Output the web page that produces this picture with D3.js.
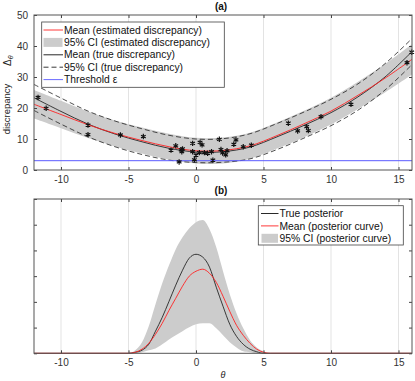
<!DOCTYPE html>
<html>
<head>
<meta charset="utf-8">
<script src="https://cdn.jsdelivr.net/npm/d3@7"></script>
<style>
  body { margin: 0; background: #fff; }
  svg { font-family: "Liberation Sans", Arial, sans-serif; }
  .tick text { font-size: 10px; fill: #333; }
  .tick line { stroke: #444; }
  .domain { display: none; }
</style>
</head>
<body>
<svg id="chart"></svg>
<script>
// ------------------------------------------------------------
// Panel (a): discrepancy vs theta, panel (b): posterior curves
// ------------------------------------------------------------

// Panel (a) data: curves sampled on a theta grid
const thetaA = [-12, -10, -8, -6, -4, -2, 0, 2, 4, 6, 8, 10, 12, 14, 16];
const estMean = [21.2, 17.9, 14.6, 11.8, 9.5, 7.5, 6.2, 6.3, 7.8, 11.1, 14.9, 19.0, 24.1, 29.6, 35.7];
const estLower = [16.6, 13.5, 10.3, 7.6, 5.3, 3.3, 2.1, 2.1, 3.6, 6.9, 10.6, 14.7, 19.7, 25.0, 30.8];
const estUpper = [25.8, 22.3, 18.9, 16.0, 13.7, 11.7, 10.4, 10.5, 12.0, 15.3, 19.1, 23.3, 28.5, 34.2, 40.6];
const trueMean = [23.3, 18.9, 14.8, 11.6, 9.1, 7.0, 5.8, 5.9, 7.4, 10.7, 14.4, 18.5, 23.6, 30.0, 38.2];
const trueLower = [19.2, 14.8, 10.7, 7.5, 5.0, 3.2, 2.4, 2.5, 3.6, 6.6, 10.3, 14.3, 19.3, 25.8, 34.0];
const trueUpper = [27.6, 23.2, 19.0, 15.8, 13.3, 11.2, 10.0, 10.1, 11.7, 15.0, 18.7, 22.8, 27.8, 34.3, 42.4];
const threshold = 3;

// Observed discrepancies (theta, value)
const obsTheta = [-11.7, -11.1, -8.0, -8.0, -5.6, -3.9, -1.85, -1.5, -1.1, -1.05, -1.0, -1.25,
  -0.25, -0.25, -0.12, 0.0, 0.25, 0.3, 0.45, 0.62, 0.86, 1.15, 1.25, 1.73, 1.85, 1.97, 2.2,
  2.3, 2.8, 2.96, 3.5, 4.1, 6.84, 7.53, 8.2, 8.32, 9.26, 11.48, 15.63, 15.98];
const obsValue = [23.4, 19.9, 14.5, 11.4, 11.3, 10.8, 6.4, 7.8, 6.5, 5.9, 6.8, 2.6,
  8.6, 5.9, 3.3, 4.8, 5.6, 8.9, 8.1, 5.6, 5.4, 5.9, 3.2, 9.9, 6.6, 5.5, 4.9,
  6.2, 8.3, 9.7, 7.5, 8.0, 15.1, 12.6, 14.0, 12.7, 17.2, 21.2, 34.6, 38.0];

// Panel (b) data: posterior densities
const thetaB = [-12, -5, -4.5, -4, -3.5, -3, -2.5, -2, -1.5, -1, -0.5, 0, 0.5, 1, 1.5, 2, 2.5, 3, 3.5, 4, 4.5, 5, 5.5, 16];
const truePost = [0, 0, 0.004, 0.012, 0.035, 0.086, 0.140, 0.202, 0.265, 0.323, 0.370, 0.385, 0.374, 0.335, 0.257, 0.183, 0.113, 0.066, 0.035, 0.016, 0.006, 0, 0, 0];
const meanPost = [0, 0, 0.004, 0.016, 0.039, 0.074, 0.117, 0.167, 0.214, 0.261, 0.300, 0.319, 0.327, 0.311, 0.276, 0.222, 0.163, 0.109, 0.070, 0.039, 0.016, 0.004, 0, 0];
const lowerPost = [0, 0, 0, 0.004, 0.012, 0.019, 0.035, 0.054, 0.070, 0.086, 0.101, 0.113, 0.117, 0.117, 0.097, 0.070, 0.043, 0.023, 0.008, 0.004, 0, 0, 0, 0];
const upperPost = [0, 0, 0.012, 0.043, 0.105, 0.191, 0.272, 0.342, 0.405, 0.451, 0.486, 0.510, 0.518, 0.482, 0.412, 0.319, 0.230, 0.156, 0.097, 0.051, 0.023, 0.008, 0, 0];

const xTicks = [-10, -5, 0, 5, 10, 15];

const width = 415;
const height = 381;
const left = 34, right = 412;

const svg = d3.select("#chart")
  .attr("width", width)
  .attr("height", height);

const x = d3.scaleLinear().domain([-12, 16]).range([left, right]);
const yA = d3.scaleLinear().domain([0, 50]).range([170, 15]);
const yB = d3.scaleLinear().domain([0, 0.6]).range([353.3, 199]);

// Vertical grid lines behind the data
function drawGrid(y) {
  const [bottom, top] = y.range();
  svg.append("g")
    .selectAll("line")
    .data(xTicks)
    .enter()
    .append("line")
    .attr("x1", d => x(d)).attr("x2", d => x(d))
    .attr("y1", top).attr("y2", bottom)
    .attr("stroke", "#e3e3e3");
}

// Box and inward ticks on all four sides
function drawAxes(y, yTicks, showYLabels) {
  const [bottom, top] = y.range();
  const g = svg.append("g");

  g.append("g")
    .attr("transform", `translate(0,${bottom})`)
    .call(d3.axisBottom(x).tickValues(xTicks).tickSize(-3).tickPadding(6).tickFormat(d => d));
  g.append("g")
    .attr("transform", `translate(0,${top})`)
    .call(d3.axisTop(x).tickValues(xTicks).tickSize(-3).tickFormat(""));
  g.append("g")
    .attr("transform", `translate(${left},0)`)
    .call(d3.axisLeft(y).tickValues(yTicks).tickSize(-3).tickPadding(6)
      .tickFormat(showYLabels ? (d => d) : ""));
  g.append("g")
    .attr("transform", `translate(${right},0)`)
    .call(d3.axisRight(y).tickValues(yTicks).tickSize(-3).tickFormat(""));

  g.append("rect")
    .attr("x", left).attr("y", top)
    .attr("width", right - left).attr("height", bottom - top)
    .attr("fill", "none")
    .attr("stroke", "#555")
    .attr("stroke-width", 1);
}

// ---------------- Panel (a) ----------------
drawGrid(yA);

const idxA = thetaA.map((d, i) => i);
svg.append("path")
  .attr("d", d3.area()
    .x(i => x(thetaA[i]))
    .y0(i => yA(estLower[i]))
    .y1(i => yA(estUpper[i]))
    .curve(d3.curveCatmullRom)(idxA))
  .attr("fill", "#cccccc");

function lineA(arr) {
  return d3.line()
    .x(i => x(thetaA[i]))
    .y(i => yA(arr[i]))
    .curve(d3.curveCatmullRom)(idxA);
}

svg.append("path").attr("d", lineA(trueLower))
  .attr("fill", "none").attr("stroke", "#222").attr("stroke-width", 0.8)
  .attr("stroke-dasharray", "5,3");
svg.append("path").attr("d", lineA(trueUpper))
  .attr("fill", "none").attr("stroke", "#222").attr("stroke-width", 0.8)
  .attr("stroke-dasharray", "5,3");
svg.append("path").attr("d", lineA(trueMean))
  .attr("fill", "none").attr("stroke", "#111").attr("stroke-width", 0.8);
svg.append("path").attr("d", lineA(estMean))
  .attr("fill", "none").attr("stroke", "#f22").attr("stroke-width", 0.9);

svg.append("line")
  .attr("x1", left).attr("x2", right)
  .attr("y1", yA(threshold)).attr("y2", yA(threshold))
  .attr("stroke", "#5a5aff").attr("stroke-width", 1);

// Observed points as asterisks
const star = d3.symbol(d3.symbolAsterisk || d3.symbolCross, 20);
svg.append("g")
  .selectAll("path")
  .data(obsTheta)
  .enter()
  .append("path")
  .attr("transform", (d, i) => `translate(${x(d)},${yA(obsValue[i])})`)
  .attr("d", star)
  .attr("fill", "none")
  .attr("stroke", "#111")
  .attr("stroke-width", 1.2);

drawAxes(yA, [0, 10, 20, 30, 40, 50], true);

// Legend (a)
const legA = svg.append("g");
legA.append("rect")
  .attr("x", 41.7).attr("y", 22).attr("width", 182.6).attr("height", 65.3)
  .attr("fill", "#fff").attr("stroke", "#444").attr("stroke-width", 0.8);
const legAItems = [
  { label: "Mean (estimated discrepancy)", type: "line", color: "#f22", dash: null },
  { label: "95% CI (estimated discrepancy)", type: "patch" },
  { label: "Mean (true discrepancy)", type: "line", color: "#111", dash: null },
  { label: "95% CI (true discrepancy)", type: "line", color: "#222", dash: "5,3" },
  { label: "Threshold ε", type: "line", color: "#5a5aff", dash: null }
];
legAItems.forEach((d, i) => {
  const cy = 30 + i * 12.4;
  if (d.type === "patch") {
    legA.append("rect").attr("x", 43.5).attr("y", cy - 4.5).attr("width", 19).attr("height", 9)
      .attr("fill", "#cccccc");
  } else {
    legA.append("line").attr("x1", 43.5).attr("x2", 63).attr("y1", cy).attr("y2", cy)
      .attr("stroke", d.color).attr("stroke-width", 0.9)
      .attr("stroke-dasharray", d.dash);
  }
  legA.append("text").attr("x", 64).attr("y", cy + 3.6)
    .attr("font-size", 10.3).attr("fill", "#111").text(d.label);
});

// Title and y label (a)
svg.append("text").attr("x", 221).attr("y", 9.5).attr("text-anchor", "middle")
  .attr("font-size", 10).attr("font-weight", "bold").attr("fill", "#111").text("(a)");
svg.append("text")
  .attr("transform", "translate(9.5,109) rotate(-90)")
  .attr("text-anchor", "middle").attr("font-size", 9.5).attr("fill", "#222")
  .text("discrepancy");
const dl = svg.append("text")
  .attr("transform", "translate(10.5,66) rotate(-90)")
  .attr("font-size", 10).attr("fill", "#222");
dl.append("tspan").text("Δ");
dl.append("tspan").attr("font-size", 7).attr("dy", 2.5).attr("font-style", "italic").text("θ");

// ---------------- Panel (b) ----------------
drawGrid(yB);

const idxB = thetaB.map((d, i) => i);
svg.append("path")
  .attr("d", d3.area()
    .x(i => x(thetaB[i]))
    .y0(i => yB(lowerPost[i]))
    .y1(i => yB(upperPost[i]))
    .curve(d3.curveMonotoneX)(idxB))
  .attr("fill", "#cccccc");

function lineB(arr) {
  return d3.line()
    .x(i => x(thetaB[i]))
    .y(i => yB(arr[i]))
    .curve(d3.curveMonotoneX)(idxB);
}
svg.append("path").attr("d", lineB(truePost))
  .attr("fill", "none").attr("stroke", "#111").attr("stroke-width", 0.8);
svg.append("path").attr("d", lineB(meanPost))
  .attr("fill", "none").attr("stroke", "#f22").attr("stroke-width", 0.9);

drawAxes(yB, [0, 0.1, 0.2, 0.3, 0.4, 0.5, 0.6], false);

// Legend (b)
const legB = svg.append("g");
legB.append("rect")
  .attr("x", 258.3).attr("y", 205.7).attr("width", 145).attr("height", 39.3)
  .attr("fill", "#fff").attr("stroke", "#444").attr("stroke-width", 0.8);
const legBItems = [
  { label: "True posterior", type: "line", color: "#111" },
  { label: "Mean (posterior curve)", type: "line", color: "#f22" },
  { label: "95% CI (posterior curve)", type: "patch" }
];
legBItems.forEach((d, i) => {
  const cy = 213.5 + i * 12.4;
  if (d.type === "patch") {
    legB.append("rect").attr("x", 261.5).attr("y", cy - 4.5).attr("width", 16.5).attr("height", 9)
      .attr("fill", "#cccccc");
  } else {
    legB.append("line").attr("x1", 261).attr("x2", 278.5).attr("y1", cy).attr("y2", cy)
      .attr("stroke", d.color).attr("stroke-width", 0.9);
  }
  legB.append("text").attr("x", 279.5).attr("y", cy + 3.6)
    .attr("font-size", 10.3).attr("fill", "#111").text(d.label);
});

svg.append("text").attr("x", 221).attr("y", 193.5).attr("text-anchor", "middle")
  .attr("font-size", 10).attr("font-weight", "bold").attr("fill", "#111").text("(b)");

// x label
svg.append("text").attr("x", 223).attr("y", 378).attr("text-anchor", "middle")
  .attr("font-size", 9).attr("font-style", "italic").attr("fill", "#222").text("θ");
</script>
</body>
</html>
